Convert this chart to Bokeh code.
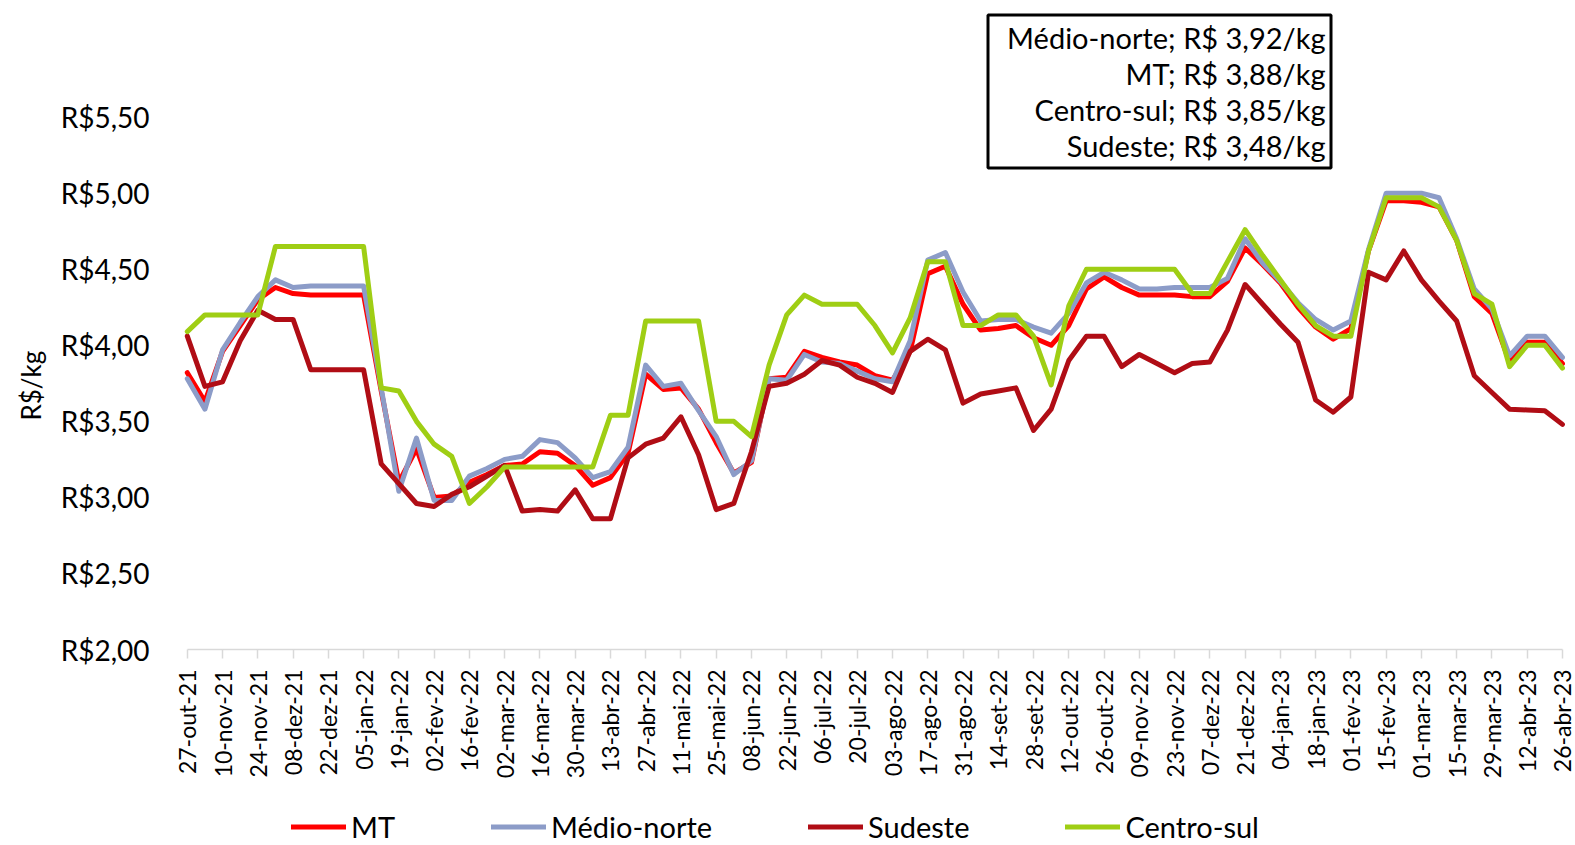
import math
from bokeh.plotting import figure
from bokeh.models import (Range1d, FixedTicker, CustomJSTickFormatter, Legend, LegendItem,
                          BoxAnnotation, Label, Title)
from bokeh.embed import file_html
from bokeh.resources import INLINE

# ---------------- data ----------------
tick_labels = ["27-out-21", "10-nov-21", "24-nov-21", "08-dez-21", "22-dez-21", "05-jan-22",
               "19-jan-22", "02-fev-22", "16-fev-22", "02-mar-22", "16-mar-22", "30-mar-22",
               "13-abr-22", "27-abr-22", "11-mai-22", "25-mai-22", "08-jun-22", "22-jun-22",
               "06-jul-22", "20-jul-22", "03-ago-22", "17-ago-22", "31-ago-22", "14-set-22",
               "28-set-22", "12-out-22", "26-out-22", "09-nov-22", "23-nov-22", "07-dez-22",
               "21-dez-22", "04-jan-23", "18-jan-23", "01-fev-23", "15-fev-23", "01-mar-23",
               "15-mar-23", "29-mar-23", "12-abr-23", "26-abr-23"]

mt = [3.82, 3.63, 3.96, 4.13, 4.30, 4.38, 4.34, 4.33, 4.33, 4.33, 4.33, 3.70, 3.10, 3.32,
      3.00, 3.01, 3.10, 3.15, 3.21, 3.22, 3.30, 3.29, 3.21, 3.08, 3.13, 3.29, 3.81, 3.71,
      3.72, 3.58, 3.36, 3.16, 3.23, 3.78, 3.79, 3.96, 3.92, 3.89, 3.87, 3.80, 3.77, 3.96,
      4.47, 4.52, 4.27, 4.10, 4.11, 4.13, 4.05, 4.00, 4.13, 4.37, 4.45, 4.38, 4.33, 4.33,
      4.33, 4.32, 4.32, 4.42, 4.64, 4.53, 4.41, 4.25, 4.12, 4.04, 4.11, 4.62, 4.95, 4.95,
      4.94, 4.91, 4.69, 4.32, 4.21, 3.89, 4.02, 4.02, 3.88]

medio_norte = [3.78, 3.58, 3.97, 4.15, 4.32, 4.43, 4.38, 4.39, 4.39, 4.39, 4.39, 3.72, 3.04,
               3.39, 2.98, 2.98, 3.14, 3.19, 3.25, 3.27, 3.38, 3.36, 3.26, 3.13, 3.17, 3.33,
               3.87, 3.73, 3.75, 3.57, 3.40, 3.15, 3.24, 3.78, 3.77, 3.94, 3.89, 3.88, 3.83,
               3.78, 3.76, 4.03, 4.56, 4.61, 4.35, 4.16, 4.17, 4.17, 4.12, 4.08, 4.21, 4.41,
               4.48, 4.43, 4.37, 4.37, 4.38, 4.38, 4.38, 4.44, 4.70, 4.54, 4.42, 4.28, 4.17,
               4.10, 4.16, 4.63, 5.00, 5.00, 5.00, 4.97, 4.70, 4.37, 4.24, 3.93, 4.06, 4.06,
               3.92]

sudeste = [4.06, 3.73, 3.76, 4.03, 4.23, 4.17, 4.17, 3.84, 3.84, 3.84, 3.84, 3.22, 3.09, 2.96,
           2.94, 3.02, 3.07, 3.14, 3.21, 2.91, 2.92, 2.91, 3.05, 2.86, 2.86, 3.26, 3.35, 3.39,
           3.53, 3.28, 2.92, 2.96, 3.30, 3.73, 3.75, 3.81, 3.90, 3.87, 3.79, 3.75, 3.69, 3.96,
           4.04, 3.97, 3.62, 3.68, 3.70, 3.72, 3.44, 3.58, 3.90, 4.06, 4.06, 3.86, 3.94, 3.88,
           3.82, 3.88, 3.89, 4.10, 4.40, 4.27, 4.14, 4.02, 3.64, 3.56, 3.66, 4.48, 4.43, 4.62,
           4.43, 4.29, 4.16, 3.80, 3.69, 3.58, 3.575, 3.57, 3.48]

centro_sul = [4.09, 4.20, 4.20, 4.20, 4.20, 4.65, 4.65, 4.65, 4.65, 4.65, 4.65, 3.72, 3.70,
              3.50, 3.35, 3.27, 2.96, 3.07, 3.20, 3.20, 3.20, 3.20, 3.20, 3.20, 3.54, 3.54,
              4.16, 4.16, 4.16, 4.16, 3.50, 3.50, 3.40, 3.87, 4.20, 4.33, 4.27, 4.27, 4.27,
              4.13, 3.95, 4.18, 4.55, 4.55, 4.13, 4.13, 4.20, 4.20, 4.06, 3.74, 4.26, 4.50,
              4.50, 4.50, 4.50, 4.50, 4.50, 4.34, 4.34, 4.55, 4.76, 4.59, 4.43, 4.27, 4.13,
              4.06, 4.06, 4.62, 4.97, 4.97, 4.97, 4.91, 4.69, 4.34, 4.27, 3.86, 4.00, 4.00,
              3.85]

series_names = ["MT", "Médio-norte", "Sudeste", "Centro-sul"]
y_ticks = [2.0, 2.5, 3.0, 3.5, 4.0, 4.5, 5.0, 5.5]
y_title = "R$/kg"
box_lines = ["Médio-norte; R$ 3,92/kg", "MT; R$ 3,88/kg",
             "Centro-sul; R$ 3,85/kg", "Sudeste; R$ 3,48/kg"]

# ---------------- layout / style ----------------
W, H = 1575, 845
BL, BR = 170, 0
X0, X_STEP = 186.8, 17.63   # canvas px of first week, px per week
AXIS_PX = 649               # canvas y of the R$2,00 baseline
FONT = "Lato"
colors = ["#FF0000", "#8C9CC8", "#B00D15", "#9FCE14"]

n = len(mt)
x = list(range(n))
px_per_unit = 152.1
y_base = y_ticks[0]
y_top = y_base + AXIS_PX / px_per_unit
y_bottom = y_base - (H - AXIS_PX) / px_per_unit


def cx(px):  # canvas px -> data x
    return (px - X0) / X_STEP


def cy(py):  # canvas px -> data y
    return y_top - py / px_per_unit


p = figure(width=W, height=H, output_backend="svg", toolbar_location=None,
           x_range=Range1d(cx(BL), cx(W - BR)), y_range=Range1d(y_bottom, y_top),
           min_border_left=BL, min_border_right=BR, min_border_top=0,
           min_border_bottom=0)
p.outline_line_color = None
p.xgrid.visible = False
p.ygrid.visible = False
p.background_fill_color = "white"

renderers = []
for vals, c in zip([mt, medio_norte, sudeste, centro_sul], colors):
    r = p.line(x, vals, line_color=c, line_width=5, line_join="round", line_cap="round")
    renderers.append(r)

# x axis, drawn at R$2,00
xa = p.xaxis[0]
xa.fixed_location = y_base
xa.bounds = (0, n - 1)
xa.ticker = FixedTicker(ticks=list(range(0, n, 2)))
xa.major_label_overrides = {i * 2: lab for i, lab in enumerate(tick_labels)}
xa.major_label_orientation = math.pi / 2
xa.major_label_text_font = FONT
xa.major_label_text_font_size = "23px"
xa.major_label_text_color = "black"
xa.major_label_standoff = 11
xa.axis_line_color = "#D9D9D9"
xa.axis_line_width = 1.5
xa.major_tick_line_color = "#D9D9D9"
xa.major_tick_line_width = 1.5
xa.major_tick_out = 9
xa.major_tick_in = 0
xa.minor_tick_line_color = None

# y axis
ya = p.yaxis[0]
ya.ticker = FixedTicker(ticks=y_ticks)
ya.formatter = CustomJSTickFormatter(code='return "R$" + tick.toFixed(2).replace(".", ",");')
ya.major_label_text_font = FONT
ya.major_label_text_font_size = "28px"
ya.major_label_text_color = "black"
ya.major_label_standoff = 15
ya.axis_line_color = None
ya.major_tick_line_color = None
ya.minor_tick_line_color = None

# y axis title (left panel, shifted to the centre of the 2,00-5,50 span)
p.add_layout(Title(text=y_title, align="left", offset=H - 420, standoff=22,
                   text_font=FONT, text_font_size="26px", text_font_style="normal",
                   text_color="black"), "left")

# annotation box
p.add_layout(BoxAnnotation(left=cx(987.5), right=cx(1330.5), top=cy(14.5), bottom=cy(167.5),
                           fill_color="white", fill_alpha=1.0, line_color="black",
                           line_alpha=1.0, line_width=3))
for k, t in enumerate(box_lines):
    p.add_layout(Label(x=cx(1325), y=cy(36.5 + 36.3 * k), text=t, text_align="right",
                       text_baseline="middle", text_font=FONT, text_font_size="29px",
                       text_color="black"))

# legend
legend = Legend(items=[LegendItem(label=nm, renderers=[r]) for nm, r in zip(series_names, renderers)],
                orientation="horizontal", location=(291 - BL, 1),
                label_text_font=FONT, label_text_font_size="29px", label_text_color="black",
                glyph_width=55, glyph_height=29, label_height=29, label_standoff=5, spacing=96,
                padding=0, margin=0, border_line_color=None, background_fill_alpha=0)
p.add_layout(legend, "center")

open("out.html", "w").write(file_html(p, INLINE))
